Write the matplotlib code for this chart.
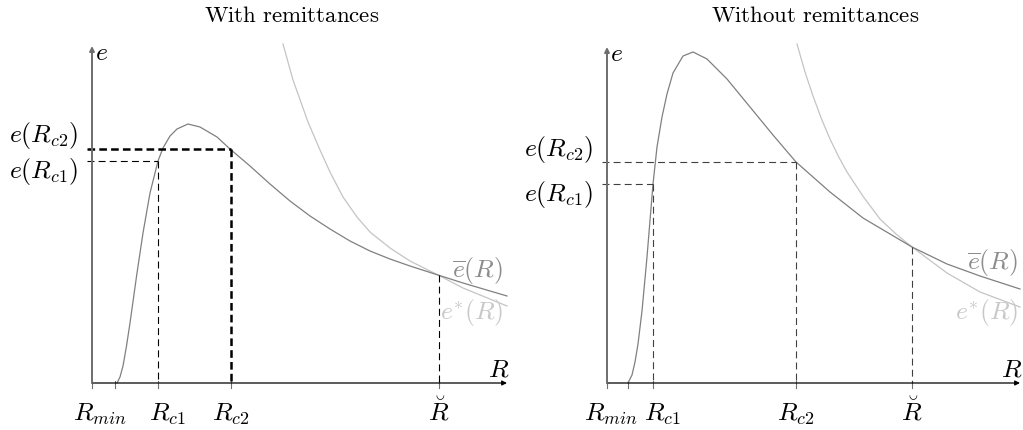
import matplotlib
matplotlib.use('Agg')
import matplotlib.pyplot as plt

plt.rcParams['mathtext.fontset'] = 'cm'
plt.rcParams['lines.scale_dashes'] = False

# values (R, e in arbitrary units)
# --- with remittances ---
with_R = [2.5, 2.8, 3.1, 3.45, 3.8, 4.5, 5.1, 5.8, 6.6, 7.1, 7.8, 8.5, 9.6, 10.8, 12.5, 13.8,
          15.8, 17.8, 19.8, 21.8, 23.8, 25.8, 27.8, 29.8, 31.8, 34.6, 37.1, 41.5]
with_ebar = [0.0, 0.6, 1.7, 3.7, 6.0, 11.0, 15.0, 19.0, 22.2, 23.5, 24.7, 25.4, 25.9, 25.6, 24.6, 23.4,
             21.7, 19.9, 18.2, 16.7, 15.4, 14.2, 13.2, 12.4, 11.7, 10.8, 10.0, 8.7]
with_Rstar = [19.1, 20.1, 21.6, 22.8, 23.8, 25.1, 26.5, 27.8, 29.8, 31.8, 34.6, 37.1, 41.5]
with_estar = [33.9, 30.3, 26.1, 23.3, 21.1, 18.6, 16.6, 15.1, 13.5, 12.2, 10.8, 9.5, 7.7]
with_Rmin, with_Rstart = 0.0, 2.3
with_Rc1, with_Rc2, with_Rbreve = 6.6, 13.9, 34.7
with_eRc1, with_eRc2, with_eRbreve = 22.2, 23.4, 10.8

# --- without remittances ---
wo_R = [2.1, 2.5, 2.8, 3.1, 3.5, 4.0, 4.6, 5.0, 5.5, 6.0, 6.6, 7.6, 8.6, 10.0, 12.0, 14.3,
        16.6, 18.9, 22.3, 25.6, 30.5, 34.0, 37.3, 41.3]
wo_ebar = [0.0, 0.8, 2.1, 3.9, 7.2, 12.6, 19.9, 23.6, 26.6, 28.9, 31.0, 32.7, 33.1, 32.4, 30.4, 27.6,
           24.8, 22.1, 19.1, 16.5, 13.6, 11.9, 10.7, 9.4]
wo_Rstar = [19.0, 19.8, 20.6, 21.45, 22.3, 23.15, 24.0, 25.65, 27.3, 28.9, 30.5, 34.0, 37.3, 41.3]
wo_estar = [33.9, 31.1, 28.7, 26.4, 24.4, 22.65, 21.1, 18.6, 16.4, 14.9, 13.6, 11.0, 9.1, 7.6]
wo_Rmin, wo_Rstart = 0.0, 2.1
wo_Rc1, wo_Rc2, wo_Rbreve = 4.6, 18.9, 30.5
wo_eRc1, wo_eRc2, wo_eRbreve = 19.9, 22.1, 13.6

DARK = '#808080'
LIGHT = '#c4c4c4'
FS = 18.5

fig = plt.figure(figsize=(10.23, 4.31), dpi=100)
axL = fig.add_axes([0, 0, 0.5, 1])
axR = fig.add_axes([0.5, 0, 0.5, 1])


def panel(ax, title, tx, R, ebar, Rs, es, Rmin, Rstart, Rc1, Rc2, Rb, e1, e2, eb,
          xmax, ymax, dcol, thick, e_lab, xlim, lab_ys):
    ax.set_xlim(*xlim)
    ax.set_ylim(-4.7, 38.4)
    ax.axis('off')

    # axes with arrows
    ax.annotate('', xy=(xmax, 0), xytext=(0, 0),
                arrowprops=dict(arrowstyle='-|>', color='black', lw=0.9,
                                mutation_scale=7, shrinkA=0, shrinkB=0))
    ax.annotate('', xy=(0, ymax), xytext=(0, 0),
                arrowprops=dict(arrowstyle='-|>', color='#6e6e6e', lw=1.4,
                                mutation_scale=7, shrinkA=0, shrinkB=0))

    # small ticks on R axis
    for x in [Rmin, Rstart, Rc1, Rc2, Rb]:
        ax.plot([x, x], [0.25, -0.5], color='#707070', lw=0.8)

    # curves
    ax.plot(Rs, es, color=LIGHT, lw=0.9)
    ax.plot(R, ebar, color=DARK, lw=0.9)

    thin = dict(color=dcol, lw=0.8, linestyle=(0, (5, 3)))
    if thick:
        bold = dict(color='black', lw=1.8, linestyle=(0, (5.5, 3)))
    else:
        bold = thin
    ax.plot([-0.5, Rc1], [e1, e1], **thin)
    ax.plot([Rc1, Rc1], [e1, 0], **thin)
    ax.plot([-0.5, Rc2], [e2, e2], **bold)
    ax.plot([Rc2, Rc2], [e2, 0], **bold)
    ax.plot([Rb, Rb], [eb, 0], **thin)

    ax.text(tx, 0.965, r'$\mathrm{' + title.replace(' ', r'\ ') + '}$', transform=ax.transAxes,
            ha='center', va='center', fontsize=16.5)

    ax.text(0.3, ymax - 0.6, r'$e$', fontsize=FS, ha='left', va='center')
    ax.text(xmax - 0.8, 1.4, r'$R$', fontsize=FS, ha='center', va='center')

    ax.text(-1.4, lab_ys[1], r'$e(R_{c2})$', fontsize=FS, ha='right', va='baseline')
    ax.text(-1.4, lab_ys[0], r'$e(R_{c1})$', fontsize=FS, ha='right', va='baseline')

    ax.text(41.1, e_lab[0], r'$\overline{e}(R)$', fontsize=FS, ha='right', va='center',
            color='#8c8c8c')
    ax.text(41.1, e_lab[1], r'$e^{*}(R)$', fontsize=FS, ha='right', va='center',
            color='#c8c8c8')

    return ax


panel(axL, 'With remittances', 0.571, with_R, with_ebar, with_Rstar, with_estar,
      with_Rmin, with_Rstart, with_Rc1, with_Rc2, with_Rbreve,
      with_eRc1, with_eRc2, with_eRbreve, 41.5, 33.7, 'black', True,
      (11.4, 7.1), (-9.2, 41.95), (20.6, 24.2))
axL.text(0.8, -3.7, r'$R_{min}$', fontsize=FS, ha='center', va='baseline')
axL.text(7.5, -3.7, r'$R_{c1}$', fontsize=FS, ha='center', va='baseline')
axL.text(with_Rc2, -3.7, r'$R_{c2}$', fontsize=FS, ha='center', va='baseline')
axL.text(with_Rbreve, -3.7, r'$\breve{R}$', fontsize=FS, ha='center', va='baseline')

panel(axR, 'Without remittances', 0.593, wo_R, wo_ebar, wo_Rstar, wo_estar,
      wo_Rmin, wo_Rstart, wo_Rc1, wo_Rc2, wo_Rbreve,
      wo_eRc1, wo_eRc2, wo_eRbreve, 41.3, 33.6, '#404040', False,
      (12.2, 7.2), (-9.55, 41.6), (18.3, 22.8))
axR.text(0.4, -3.7, r'$R_{min}$', fontsize=FS, ha='center', va='baseline')
axR.text(5.5, -3.7, r'$R_{c1}$', fontsize=FS, ha='center', va='baseline')
axR.text(wo_Rc2, -3.7, r'$R_{c2}$', fontsize=FS, ha='center', va='baseline')
axR.text(wo_Rbreve, -3.7, r'$\breve{R}$', fontsize=FS, ha='center', va='baseline')

fig.savefig('out.png', dpi=100)
